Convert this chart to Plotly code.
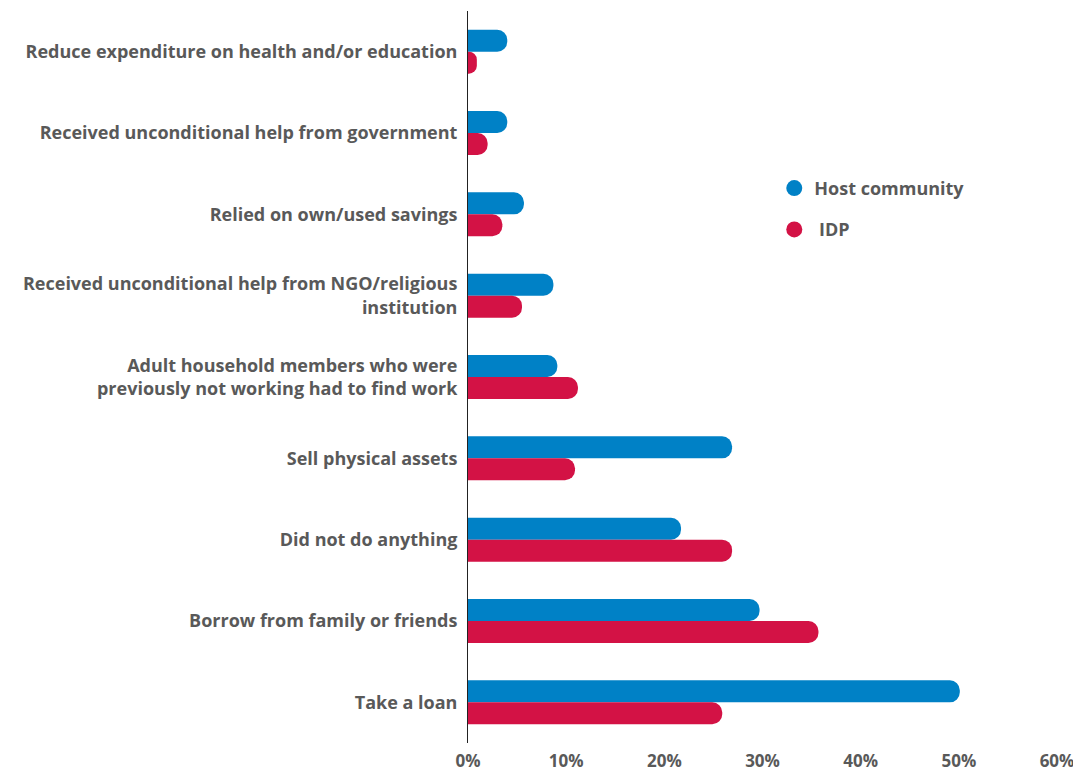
import plotly.graph_objects as go

categories = [
    "Reduce expenditure on health and/or education",
    "Received unconditional help from government",
    "Relied on own/used savings",
    "Received unconditional help from NGO/religious<br>institution",
    "Adult household members who were<br>previously not working had to find work",
    "Sell physical assets",
    "Did not do anything",
    "Borrow from family or friends",
    "Take a loan",
]
host_community = [4.0, 4.0, 5.7, 8.7, 9.1, 26.9, 21.7, 29.7, 50.1]
idp = [0.9, 2.0, 3.5, 5.5, 11.2, 10.9, 26.9, 35.7, 25.9]
x_ticks = [0, 10, 20, 30, 40, 50, 60]
x_tick_labels = ["0%", "10%", "20%", "30%", "40%", "50%", "60%"]

BLUE = "#0081C6"
RED = "#D31245"
GRAY = "#595959"
FONT = "Open Sans"
FS = 18

fig = go.Figure()
fig.add_trace(go.Bar(y=categories, x=host_community, orientation="h", name="Host community",
                     marker=dict(color=BLUE, cornerradius=11, line=dict(width=0)), showlegend=False))
fig.add_trace(go.Bar(y=categories, x=idp, orientation="h", name=" IDP",
                     marker=dict(color=RED, cornerradius=11, line=dict(width=0)), showlegend=False))
fig.add_trace(go.Scatter(x=[None], y=[None], mode="markers", name="Host community", legendgroup="a",
                         marker=dict(color=BLUE, size=16, symbol="circle")))
fig.add_trace(go.Scatter(x=[None], y=[None], mode="markers", name=" IDP", legendgroup="b",
                         marker=dict(color=RED, size=16, symbol="circle")))

fig.update_layout(
    width=1073, height=766,
    margin=dict(l=460, r=24, t=3, b=31, autoexpand=False),
    paper_bgcolor="white", plot_bgcolor="white",
    barmode="group", bargap=0.46, bargroupgap=0,
    font=dict(family=FONT, size=FS, color=GRAY, weight="bold"),
    legend=dict(x=0.52, y=0.783, xanchor="left", yanchor="top", tracegroupgap=15,
                traceorder="grouped", font=dict(size=FS, color=GRAY, family=FONT, weight="bold"),
                bgcolor="rgba(0,0,0,0)"),
    xaxis=dict(range=[0, 60], tickvals=x_ticks, ticktext=x_tick_labels, showgrid=False,
               zeroline=False, showline=False, ticks="", ticklabelstandoff=6, automargin=False,
               tickfont=dict(size=17, color=GRAY, family=FONT, weight="bold")),
    yaxis=dict(autorange="reversed", showgrid=False, zeroline=False, showline=True,
               linecolor="#222222", linewidth=1, ticks="", ticklabelstandoff=6, automargin=False,
               tickfont=dict(size=FS, color=GRAY, family=FONT, weight="bold")),
)

fig.write_html("out.html")
